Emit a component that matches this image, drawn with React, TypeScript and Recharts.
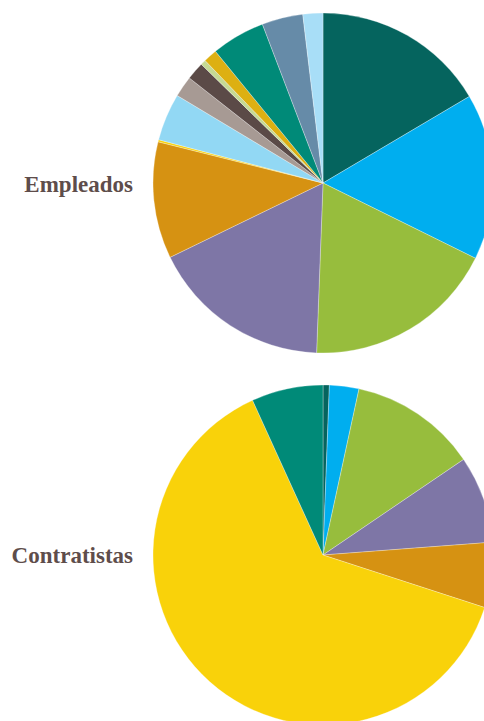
import React from "react";
import { PieChart, Pie, Cell } from "recharts";

const empleadosNames = [
  "Segmento 1", "Segmento 2", "Segmento 3", "Segmento 4", "Segmento 5",
  "Segmento 6", "Segmento 7", "Segmento 8", "Segmento 9", "Segmento 10",
  "Segmento 11", "Segmento 12", "Segmento 13", "Segmento 14",
];
const empleadosValues = [16.5, 15.8, 18.3, 17.2, 11.1, 0.2, 4.5, 2.0, 1.7, 0.5, 1.3, 5.1, 3.9, 1.9];
const empleadosColors = [
  "#05645E", "#00AEEF", "#97BD3D", "#7E76A6", "#D69212", "#F9D20A", "#92D8F4",
  "#A79A94", "#5B4A47", "#C5DA94", "#DDB012", "#008A78", "#668BA8", "#A8DEF7",
];

const contratistasNames = [
  "Segmento 1", "Segmento 2", "Segmento 3", "Segmento 4", "Segmento 5", "Segmento 6", "Segmento 12",
];
const contratistasValues = [0.6, 2.8, 12.1, 8.3, 6.2, 63.2, 6.8];
const contratistasColors = ["#05645E", "#00AEEF", "#97BD3D", "#7E76A6", "#D69212", "#F9D20A", "#008A78"];

const chartLabels = ["Empleados", "Contratistas"];

const empleadosData = empleadosNames.map((name, i) => ({ name, value: empleadosValues[i] }));
const contratistasData = contratistasNames.map((name, i) => ({ name, value: contratistasValues[i] }));

const labelStyle: React.CSSProperties = {
  position: "absolute",
  right: 484 - 133,
  fontFamily: "'Liberation Serif', 'DejaVu Serif', serif",
  fontWeight: "bold",
  fontSize: 23,
  color: "#5E4D4B",
  lineHeight: "23px",
  whiteSpace: "nowrap",
};

export default function App() {
  return (
    <div style={{ position: "fixed", left: 0, top: 0, width: 484, height: 721, overflow: "hidden", background: "#fff" }}>
      <PieChart width={484} height={721} margin={{ top: 0, right: 0, bottom: 0, left: 0 }}>
        <Pie
          data={empleadosData}
          dataKey="value"
          nameKey="name"
          cx={323}
          cy={183}
          innerRadius={0}
          outerRadius={170}
          startAngle={90}
          endAngle={-270}
          stroke="#ffffff"
          strokeWidth={0.3}
          isAnimationActive={false}
        >
          {empleadosData.map((d, i) => (
            <Cell key={d.name} fill={empleadosColors[i]} />
          ))}
        </Pie>
        <Pie
          data={contratistasData}
          dataKey="value"
          nameKey="name"
          cx={323}
          cy={555}
          innerRadius={0}
          outerRadius={170}
          startAngle={90}
          endAngle={-270}
          stroke="#ffffff"
          strokeWidth={0.3}
          isAnimationActive={false}
        >
          {contratistasData.map((d, i) => (
            <Cell key={d.name + i} fill={contratistasColors[i]} />
          ))}
        </Pie>
      </PieChart>
      <div style={{ ...labelStyle, top: 173 }}>{chartLabels[0]}</div>
      <div style={{ ...labelStyle, top: 544 }}>{chartLabels[1]}</div>
    </div>
  );
}
